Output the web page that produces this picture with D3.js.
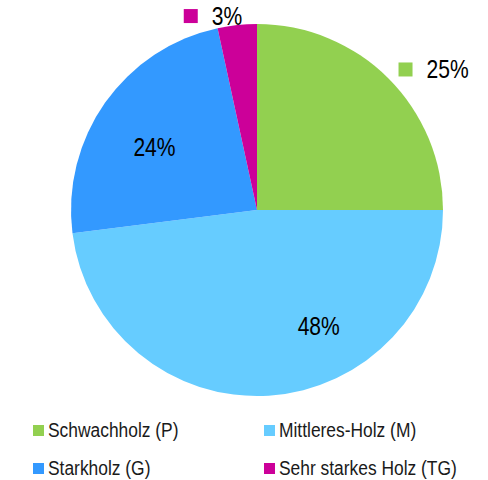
<!DOCTYPE html>
<html>
  <head>
    <meta charset="utf-8">
    <style>
    body { margin: 0; border: 0; overflow: hidden; background: #fff; }
    text {
      font-family: "Liberation Sans", Arial, sans-serif;
      fill: #000;
    }
    .legend text { font-size: 20px; fill: #1a1a1a; }
    .label { font-size: 26px; }
    </style>
  </head>
  <body>
    <script src="https://cdnjs.cloudflare.com/ajax/libs/d3/7.8.5/d3.min.js"></script>
    <script>
var width = 488, height = 480;

var categories = ["Schwachholz (P)", "Mittleres-Holz (M)", "Starkholz (G)", "Sehr starkes Holz (TG)"];
var shares = [25, 48, 23.6, 3.4];
var labels = ["25%", "48%", "24%", "3%"];
var colors = ["#92D050", "#66CCFF", "#3399FF", "#CC0099"];

var cx = 257, cy = 210, radius = 186;
var narrowLabel = 0.81, narrowLegend = 0.87;   // fake "Arial Narrow"

var svg = d3.select("body").append("svg")
    .attr("width", width)
    .attr("height", height);

var pie = d3.pie().sort(null).value(function(d) { return d; });
var arc = d3.arc().innerRadius(0).outerRadius(radius);

var arcs = pie(shares);

var g = svg.append("g").attr("transform", "translate(" + cx + "," + cy + ")");

g.selectAll("path")
  .data(arcs)
  .enter().append("path")
    .attr("d", arc)
    .attr("fill", function(d, i) { return colors[i]; });

// helper: condensed text at x,y
function narrowText(parent, x, y, txt, cls, sx, anchor) {
  return parent.append("g")
      .attr("transform", "translate(" + x + "," + y + ") scale(" + sx + ",1)")
    .append("text")
      .attr("class", cls)
      .attr("text-anchor", anchor || "start")
      .text(txt);
}

var edge = d3.arc().innerRadius(radius).outerRadius(radius);
var outside = [true, false, false, true];
// excel "best fit" placement for inside labels: radius factor, angle shift (deg)
var insideR = [0, 0.70, 0.65, 0];
var insideShift = [0, -24.7, -3.3, 0];

arcs.forEach(function(a, i) {
  if (!outside[i]) {
    var ang = (a.startAngle + a.endAngle) / 2 + insideShift[i] * Math.PI / 180;
    var r = radius * insideR[i];
    narrowText(g, r * Math.sin(ang), -r * Math.cos(ang) + 10, labels[i], "label", narrowLabel, "middle");
    return;
  }
  // outside label with a colour key in front
  var e = edge.centroid(a);
  var lg = g.append("g");
  lg.append("rect")
    .attr("width", 14).attr("height", 14)
    .attr("fill", colors[i]);
  var t = narrowText(lg, 28, 16, labels[i], "label", narrowLabel);
  var w = 28 + t.node().getComputedTextLength() * narrowLabel;
  var right = (a.startAngle + a.endAngle) / 2 < Math.PI;
  var x0 = right ? e[0] + 10 : e[0] + 5 - w;
  lg.attr("transform", "translate(" + x0 + "," + (e[1] - 16) + ")");
});

// legend, 2 columns
var legend = svg.append("g").attr("class", "legend");
var item = legend.selectAll("g.item")
  .data(categories)
  .enter().append("g")
    .attr("class", "item")
    .attr("transform", function(d, i) {
      return "translate(" + (i % 2 === 0 ? 33 : 264) + "," + (425 + Math.floor(i / 2) * 38) + ")";
    });
item.append("rect")
  .attr("width", 11).attr("height", 11)
  .attr("fill", function(d, i) { return colors[i]; });
item.each(function(d) {
  narrowText(d3.select(this), 15, 12, d, "", narrowLegend);
});
    </script>
  </body>
</html>
